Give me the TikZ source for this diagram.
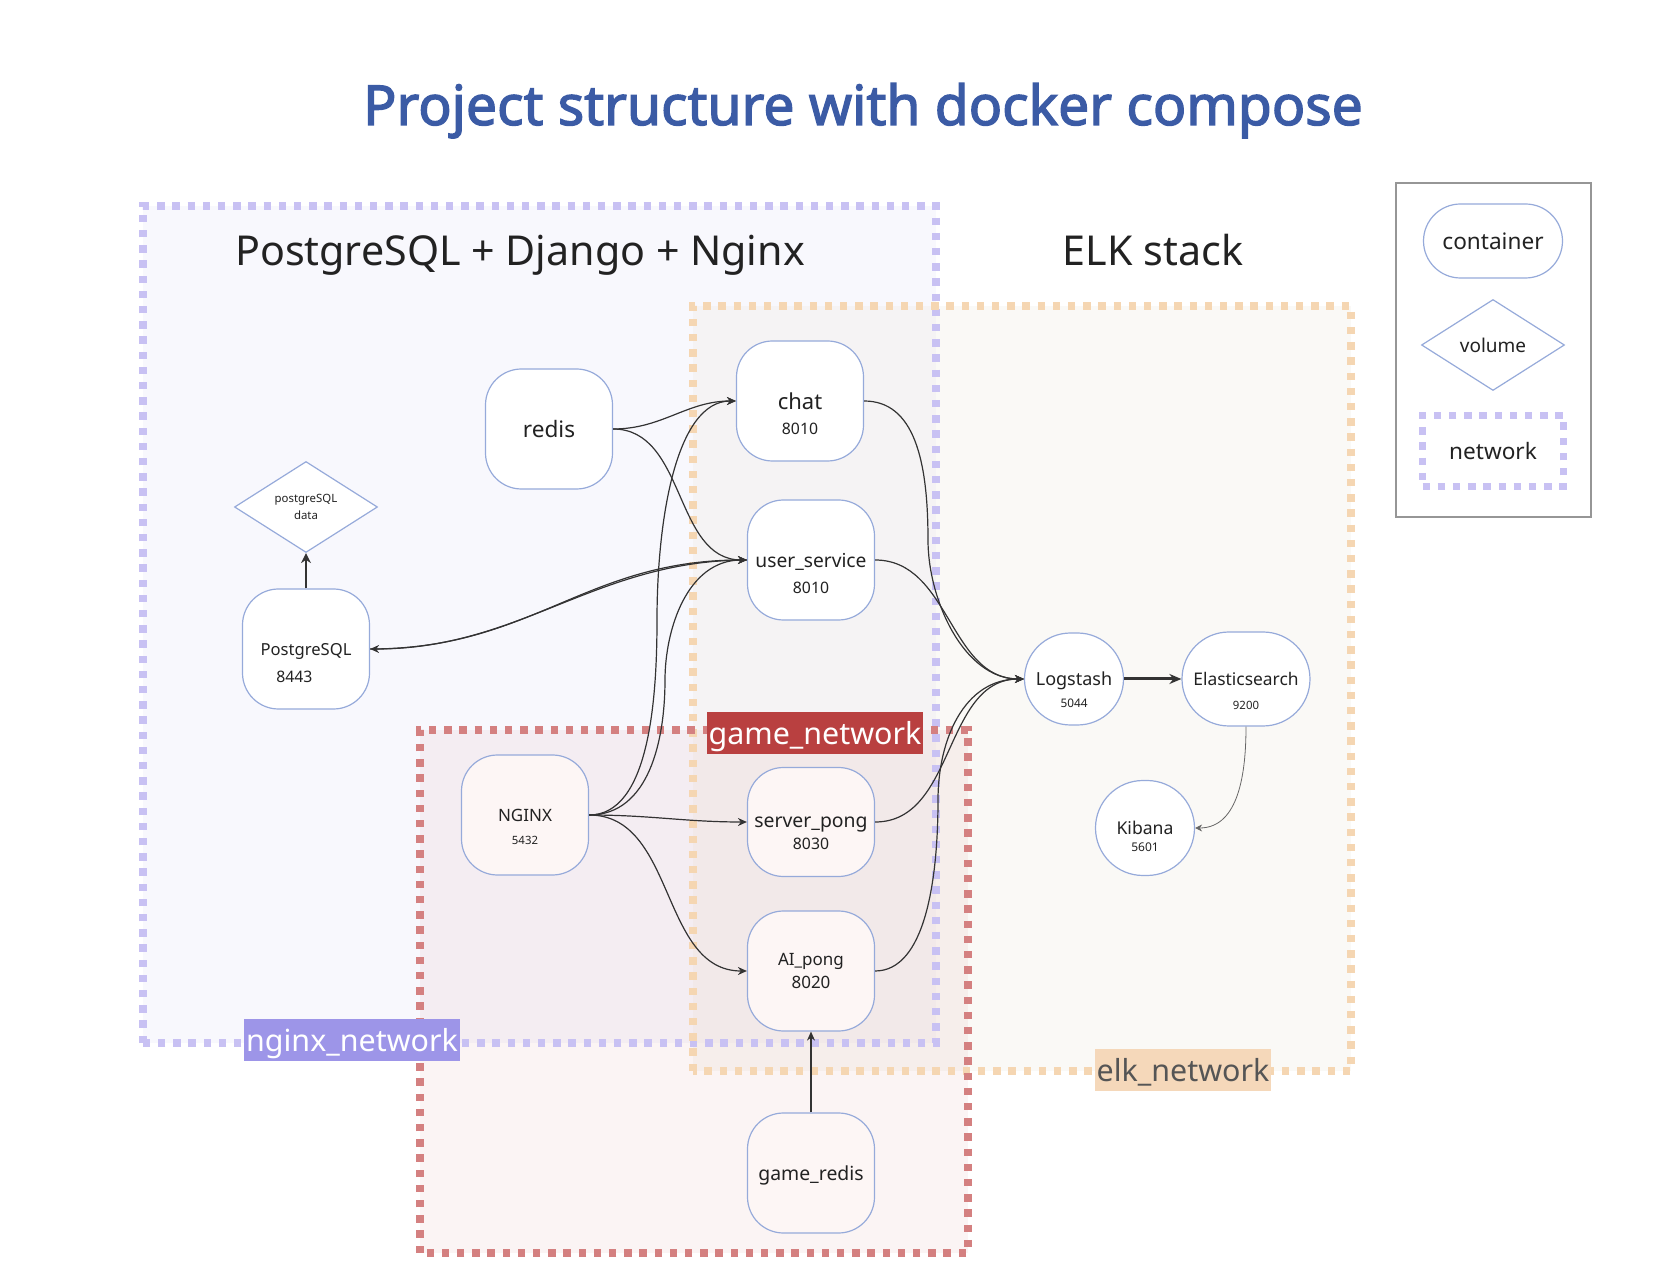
\documentclass[tikz,border=0pt]{standalone}
\usepackage{fontspec}
\setmainfont{Noto Sans}
\newfontfamily\titlefont{Noto Sans}[FakeBold=2.4]
\usetikzlibrary{arrows.meta}
\usetikzlibrary{shapes.misc, shapes.geometric}
\definecolor{titleblue}{RGB}{59,91,165}
\definecolor{nodeline}{RGB}{150,170,218}
\definecolor{edge}{RGB}{51,51,51}
\definecolor{ink}{RGB}{34,34,34}
\definecolor{nginxnet}{RGB}{157,149,232}
\definecolor{nginxdot}{RGB}{200,193,243}
\definecolor{elknet}{RGB}{245,216,186}
\definecolor{elkdot}{RGB}{245,214,178}
\definecolor{elkfill}{RGB}{240,235,224}
\definecolor{elktext}{RGB}{85,85,85}
\definecolor{gamenet}{RGB}{185,64,64}
\definecolor{gamedot}{RGB}{212,128,128}
\definecolor{gamenode}{RGB}{253,246,245}
\definecolor{legendline}{RGB}{150,150,150}
\newcommand{\fsz}[1]{\fontsize{#1pt}{#1pt}\selectfont}

\begin{document}
\begin{tikzpicture}[x=0.5pt, y=0.5pt, ink,
    svc/.style={draw=nodeline, line width=0.6pt, fill=white, rounded corners=18pt, minimum width=63.5pt, minimum height=60pt, inner sep=1pt, text depth=0pt, align=center},
    gamesvc/.style={svc, fill=gamenode},
    pill/.style={rounded rectangle, draw=nodeline, line width=0.6pt, fill=white, inner sep=1pt, text depth=0pt, align=center},
    vol/.style={diamond, draw=nodeline, line width=0.6pt, fill=white, inner sep=0pt, minimum width=71.5pt, minimum height=45.5pt, align=center},
    port/.style={font=\fsz{7.9}},
    net/.style={line width=3.6pt, dash pattern=on 3.7pt off 3.9pt},
    netlabel/.style={inner xsep=1pt, inner ysep=0pt, minimum height=21pt, text depth=0pt, font=\fsz{15.2}},
    link/.style={draw=edge, line width=0.6pt, -{Stealth[length=4.5pt, width=4pt]}},
    biglink/.style={draw=edge, line width=1.5pt, -{Stealth[length=6pt, width=5pt]}}]

    \useasboundingbox (0,0) rectangle (1656,1282);

    % networks
    \fill[nginxnet, fill opacity=0.07] (143,239) rectangle (936,1076);
    \fill[elkfill, fill opacity=0.3] (693,211) rectangle (1351,976);
    \fill[gamenet, fill opacity=0.06] (420,29) rectangle (968,552);
    \draw[net, nginxdot] (143,239) rectangle (936,1076);
    \draw[net, elkdot] (693,211) rectangle (1351,976);
    \draw[net, gamedot] (420,29) rectangle (968,552);

    \node[anchor=base, font=\titlefont\fsz{27.6}, text=titleblue] (title) at (863,1157) {Project structure with docker compose};
    \node[anchor=base, font=\fsz{20.6}] (hdjango) at (520,1016) {PostgreSQL + Django + Nginx};
    \node[anchor=base, font=\fsz{20.6}] (helk) at (1153,1016) {ELK stack};

    % containers
    \node[svc, font=\fsz{11.3}] (redis) at (549,853) {redis};
    \node[svc, font=\fsz{11}, label={[port, yshift=-13.7pt]center:8010}] (chat) at (800,881) {chat};
    \node[svc, font=\fsz{9.6}, label={[port, yshift=-13.7pt]center:8010}] (user) at (811,722) {user\_service};
    \node[svc, font=\fsz{8.3}, label={[port, xshift=-5.8pt, yshift=-13.7pt]center:8443}] (pg) at (306,633) {PostgreSQL};
    \node[vol, font=\fsz{5.7}] (pgdata) at (306,775) {postgreSQL\\[2.7pt]data};
    \node[gamesvc, font=\fsz{8.5}, label={[port, font=\fsz{5.7}, yshift=-12.7pt]center:5432}] (nginx) at (525,467) {NGINX};
    \node[gamesvc, minimum height=54.5pt, font=\fsz{9.7}, label={[port, yshift=-11pt]center:8030}] (pong) at (811,460) {server\_pong};
    \node[gamesvc, font=\fsz{8.5}] (aipong) at (811,311) {AI\_pong\\[3pt]8020};
    \node[gamesvc, font=\fsz{9.7}] (gredis) at (811,109) {game\_redis};
    \node[pill, minimum width=51.5pt, minimum height=46pt, font=\fsz{9}, label={[port, font=\fsz{5.9}, yshift=-12pt]center:5044}] (logstash) at (1074,603) {Logstash};
    \node[pill, minimum width=66pt, minimum height=47pt, font=\fsz{8.7}, label={[port, font=\fsz{5.7}, yshift=-13pt]center:9200}] (elastic) at (1246,603) {Elasticsearch};
    \node[pill, minimum width=51.5pt, minimum height=47.5pt, font=\fsz{8.8}, label={[port, font=\fsz{6}, yshift=-9.5pt]center:5601}] (kibana) at (1145,454) {Kibana};

    % links
    \draw[link] (redis.east) to[out=0, in=180] (chat.west);
    \draw[link] (redis.east) to[out=0, in=180] (user.west);
    \draw[link] (nginx.east) to[out=0, in=-90, out distance=30pt, in distance=40pt] (657,662) to[out=90, in=180, out distance=50pt, in distance=30pt] (chat.west);
    \draw[link] (nginx.east) to[out=0, in=-90, out distance=30pt, in distance=30pt] (665,602) to[out=90, in=180, out distance=25pt, in distance=30pt] (user.west);
    \draw[link] (nginx.east) to[out=0, in=180] (pong.west);
    \draw[link] (nginx.east) to[out=0, in=180] (aipong.west);
    \draw[link] (user.west) to[out=180, in=0] (pg.east);
    \draw[link] (pg.east) to[out=0, in=180, looseness=1.08] (user.west);
    \draw[link, line width=1pt, -{Stealth[length=5pt, width=5pt]}] (pg.north) -- (pgdata.south);
    \draw[link] (chat.east) to[out=0, in=90, out distance=25pt, in distance=40pt] (928,742) to[out=-90, in=180, out distance=30pt, in distance=30pt] (logstash.west);
    \draw[link] (user.east) to[out=0, in=180] (logstash.west);
    \draw[link] (pong.east) to[out=0, in=180] (logstash.west);
    \draw[link] (aipong.east) to[out=0, in=-90, out distance=25pt, in distance=40pt] (938,482) to[out=90, in=180, out distance=30pt, in distance=30pt] (logstash.west);
    \draw[biglink] (logstash.east) -- (elastic.west);
    \draw[link, draw=edge!75, line width=0.4pt, -{Stealth[length=3.5pt, width=3.5pt]}] (elastic.south) to[out=-90, in=0] (kibana.east);
    \draw[link] (gredis.north) -- (aipong.south);

    % network labels
    \node[netlabel, fill=nginxnet, text=white] (lblnginx) at (352,242) {nginx\_network};
    \node[netlabel, fill=elknet, text=elktext] (lblelk) at (1183,212) {elk\_network};
    \node[netlabel, fill=gamenet, text=white] (lblgame) at (815,549) {game\_network};

    % legend
    \draw[legendline, line width=0.75pt] (1396,765) rectangle (1591,1099);
    \node[pill, minimum width=71.5pt, minimum height=37pt, font=\fsz{11.3}] (lcontainer) at (1493,1041) {container};
    \node[vol, font=\fsz{9.5}] (lvolume) at (1493,937) {volume};
    \node[draw=nginxdot, net, minimum width=70.5pt, minimum height=35.5pt, font=\fsz{11.3}] (lnetwork) at (1493,831) {network};

\end{tikzpicture}
\end{document}
